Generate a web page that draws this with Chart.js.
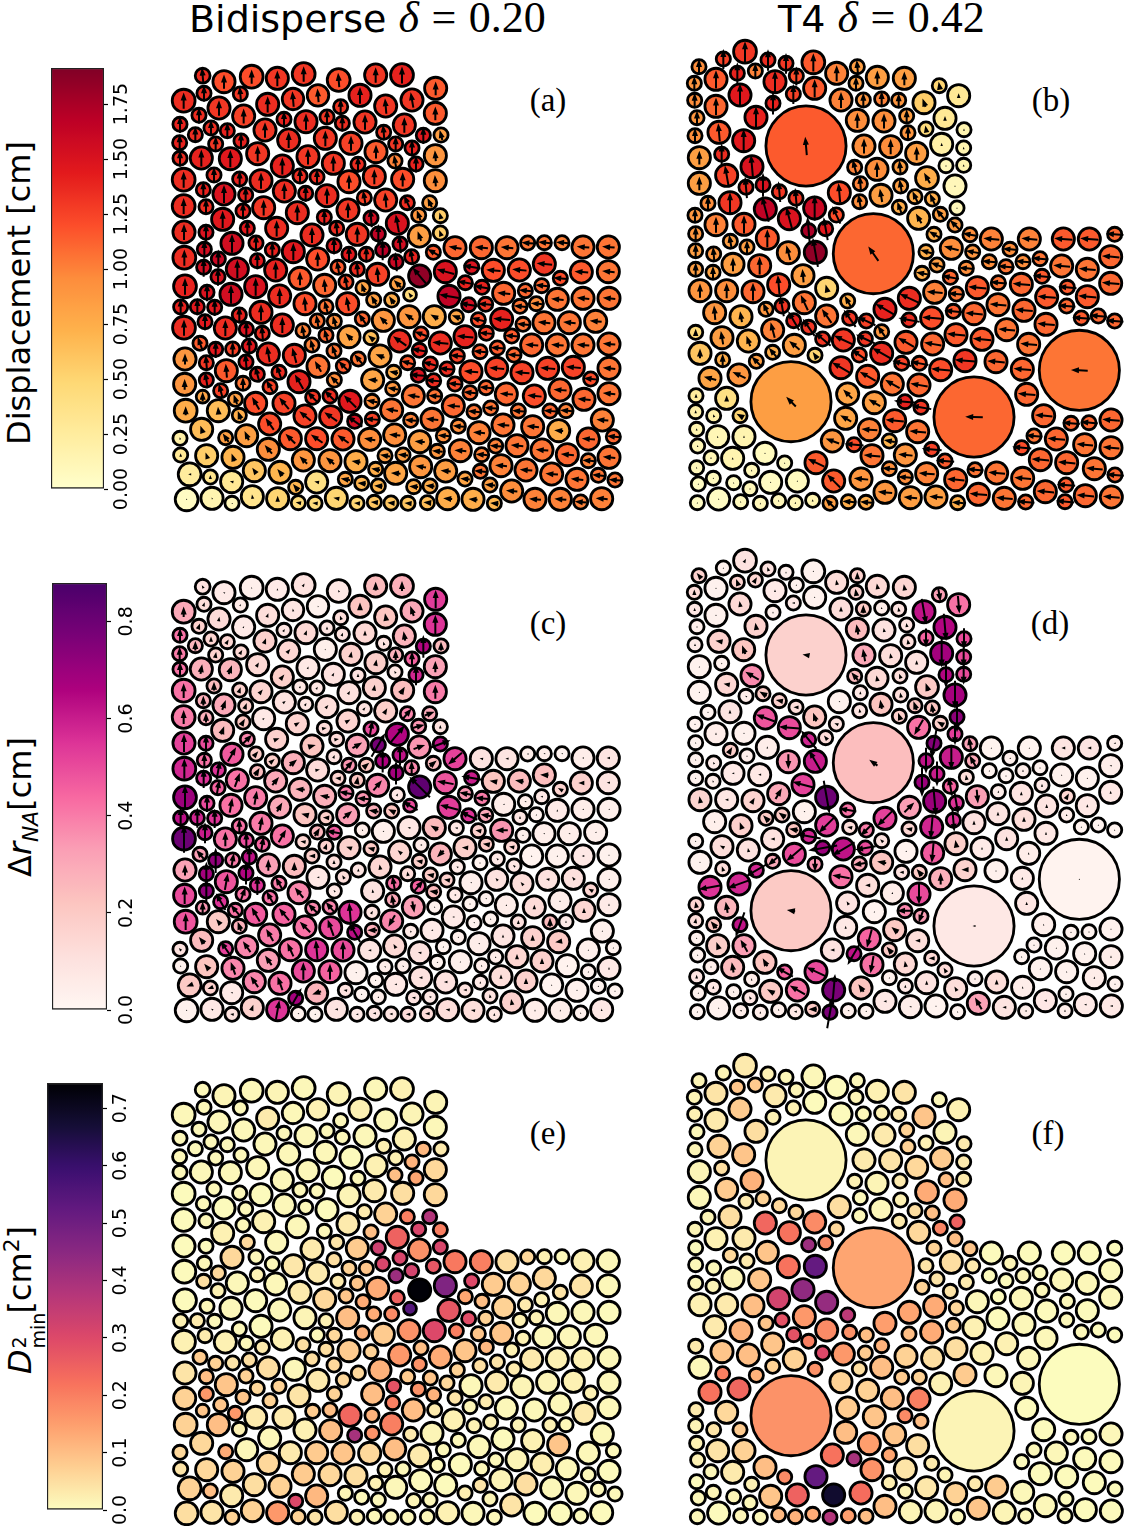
<!DOCTYPE html>
<html>
<head>
<meta charset="utf-8">
<title>Displacement maps</title>
<script src="https://cdn.jsdelivr.net/npm/chart.js@4"></script>
<style>
body{margin:0;background:#fff;width:1125px;height:1527px;position:relative;overflow:hidden}
canvas{position:absolute}
.t{position:absolute;white-space:nowrap;color:#000;font-family:"DejaVu Sans"}
.serif{font-family:"Liberation Serif";font-size:44px;word-spacing:1.5px}
.letter{font-family:"Liberation Serif";font-size:33px;transform:translate(-50%,-50%)}
.side{font-size:32px;transform:translate(-50%,-50%) rotate(-90deg)}
i.s{font-family:"DejaVu Sans";font-style:oblique}
sub,sup{font-size:.68em;line-height:0}
</style>
</head>
<body>
<div class="t" style="left:189px;top:-8px;font-size:38px">Bidisperse <span class="serif"><i>δ</i> = 0.20</span></div>
<div class="t" style="left:778px;top:-8px;font-size:38px">T4 <span class="serif"><i>δ</i> = 0.42</span></div>
<div class="t side" style="left:19px;top:293px">Displacement [cm]</div>
<div class="t side" style="left:20px;top:807px">Δ<i class="s">r<sub>NA</sub></i>[cm]</div>
<div class="t side" style="left:20px;top:1300px"><i class="s">D</i><span style="display:inline-block;position:relative;width:36px;height:1px"><span style="position:absolute;left:1px;top:-22px;font-size:19px">2</span><span style="position:absolute;left:1px;top:-3px;font-size:19px">min</span></span>[cm<sup>2</sup>]</div>
<div class="t letter" style="left:548px;top:100px">(a)</div>
<div class="t letter" style="left:1051px;top:100px">(b)</div>
<div class="t letter" style="left:548px;top:623px">(c)</div>
<div class="t letter" style="left:1050px;top:623px">(d)</div>
<div class="t letter" style="left:548px;top:1133px">(e)</div>
<div class="t letter" style="left:1048px;top:1133px">(f)</div>
<script>
// left packing, bidisperse
var leftX=[113,177,260,337,416,521,632,711,812,56,
117,226,308,384,459,585,527,662,741,811,
162,102,236,45,138,187,91,300,357,423,
486,532,600,718,656,775,828,44,152,228,
371,481,558,692,741,633,811,45,109,196,
278,429,352,505,579,690,753,56,147,224,
288,405,456,552,628,713,811,115,177,242,
358,422,486,598,662,727,794,56,123,234,
296,397,549,478,618,761,826,173,697,57,
123,247,335,515,441,577,640,763,826,201,
118,273,705,507,805,870,58,322,385,653,
552,604,458,949,1026,1088,1138,1191,1254,1330,
160,116,217,277,332,519,577,693,740,638,
159,764,841,920,985,1063,1138,1186,1249,1330,
60,405,479,543,594,697,901,951,126,198,
272,344,1016,1081,1130,420,735,626,680,548,
852,911,962,1065,1114,1177,1254,1332,47,97,
149,483,288,223,120,57,181,244,292,352,
414,457,508,592,655,732,808,874,940,1010,
1074,1137,1213,1292,483,552,618,704,768,826,
900,964,1040,105,152,203,253,310,388,441,
507,763,877,945,997,1047,1100,1177,1254,1332,
60,124,243,184,459,580,645,728,796,535,
918,995,1071,1148,1225,1332,59,124,277,342,
234,402,508,623,686,760,846,806,167,315,
113,211,443,495,870,963,1277,683,1024,1108,
1185,1332,915,745,809,555,621,62,160,272,
357,223,680,865,927,977,1060,1155,1203,1257,
420,497,569,622,737,801,1014,1103,1181,1312,
880,314,110,942,45,182,245,376,455,534,
614,689,764,835,1270,1345,992,1056,1131,47,
125,204,310,660,714,817,886,950,1207,1270,
1332,415,495,573,767,632,74,136,200,268,
345,692,842,1008,1083,946,1160,1236,1300,1350,
455,541,590,640,746,795,900,975,392,65,
141,201,262,338,400,450,514,576,628,678,
729,787,848,924,988,1040,1110,1186,1247,1310];
var leftY=[47,65,50,55,42,60,45,45,85,122,
100,102,133,117,106,106,140,138,120,160,
144,166,168,193,204,212,224,210,178,185,
171,190,186,195,217,226,225,248,252,243,
240,235,250,252,264,275,287,295,294,296,
281,290,318,310,313,303,312,359,345,357,
362,348,351,365,350,358,362,389,402,405,
393,400,407,413,420,428,428,438,440,453,
443,458,450,472,474,466,467,478,490,516,
517,505,505,505,525,523,522,528,519,550,
568,549,552,557,577,563,593,570,575,570,
583,583,597,563,563,549,548,548,561,561,
597,622,627,602,630,622,628,605,590,643,
650,648,635,621,631,630,612,655,636,635,
679,655,676,666,683,671,668,682,697,703,
680,708,700,692,677,731,704,720,720,731,
709,734,733,739,731,718,715,715,741,740,
742,740,757,765,785,803,804,808,820,795,
812,783,784,777,781,770,770,771,779,778,
793,788,788,784,826,830,833,843,822,849,
830,820,828,850,868,867,858,882,886,855,
873,871,888,875,864,885,855,855,855,852,
897,908,906,932,919,897,888,908,912,918,
935,925,938,925,922,925,973,960,943,937,
970,965,960,960,937,946,927,962,992,980,
1010,1018,1012,1008,972,983,957,986,1002,1008,
990,1001,998,1008,1008,1024,1024,1052,1052,1030,
1030,1066,1050,1038,1055,1044,1053,1053,1052,1018,
1068,1070,1084,1078,1081,1078,1095,1100,1112,1080,
1099,1092,1108,1118,1135,1133,1127,1136,1136,1137,
1138,1125,1145,1127,1137,1130,1158,1157,1170,1185,
1187,1192,1168,1187,1185,1174,1172,1184,1184,1202,
1192,1200,1202,1205,1220,1228,1243,1251,1265,1232,
1237,1240,1233,1217,1230,1234,1242,1258,1246,1260,
1266,1258,1270,1278,1280,1278,1257,1275,1282,1318,
1315,1330,1310,1316,1328,1330,1315,1330,1327,1329,
1330,1328,1316,1318,1330,1293,1318,1318,1326,1316];
var leftR=[25,36,37,36,37,37,36,37,36,37,
24,24,36,35,35,36,24,36,36,36,
36,24,36,24,24,24,24,36,24,36,
24,24,36,36,24,24,24,24,24,24,
36,36,36,24,24,36,36,24,36,36,
36,36,36,36,24,24,24,37,24,24,
36,24,24,36,36,36,36,24,36,24,
36,24,36,24,36,24,24,37,24,24,
36,36,36,24,24,24,24,36,36,36,
24,24,36,24,36,36,24,36,24,36,
24,24,24,24,24,36,37,24,36,24,
24,24,36,36,36,24,24,24,36,36,
24,24,36,24,36,24,24,24,24,36,
24,36,36,24,36,36,36,24,36,36,
37,36,36,24,24,24,24,24,24,36,
36,36,36,24,24,36,22,24,24,36,
36,24,24,24,24,36,36,36,24,24,
24,24,36,24,24,37,36,24,24,36,
24,24,24,24,36,36,36,24,24,36,
24,36,36,36,24,36,24,36,24,36,
36,24,24,24,24,24,24,36,36,24,
24,24,24,24,24,24,36,36,36,36,
36,24,24,36,36,24,36,24,24,24,
36,36,36,36,36,36,36,24,24,24,
24,36,24,36,24,24,24,24,24,24,
22,24,24,24,24,24,24,24,36,36,
36,36,24,36,24,36,24,37,36,36,
36,24,36,36,24,24,24,24,24,36,
36,36,24,24,24,36,36,36,36,36,
24,36,36,36,24,24,36,36,36,36,
36,36,36,24,36,24,24,36,36,24,
36,36,36,24,24,24,36,24,36,24,
36,36,36,36,36,24,37,24,36,36,
36,36,36,36,36,24,36,36,24,24,
36,24,24,24,24,24,24,24,24,37,
36,24,36,36,24,24,36,24,24,24,
24,24,36,36,24,36,36,36,24,36];
var leftDisp=[1.35,1.2,1.2,1.3,1.3,1.2,1.3,1.4,1.15,1.35,
1.35,1.3,1.35,1.3,1.15,1.4,1.3,1.3,1.3,1.15,
1.3,1.35,1.25,1.4,1.35,1.4,1.35,1.3,1.4,1.35,
1.3,1.35,1.3,1.3,1.3,1.45,.85,1.4,1.3,1.4,
1.35,1.3,1.25,1.3,1.4,1.15,.9,1.35,1.4,1.45,
1.3,1.3,1.4,1.3,1.35,1,1.4,1.35,1.35,1.4,
1.35,1.35,1.35,1.2,1.25,1.2,.95,1.4,1.5,1.4,
1.35,1.4,1.35,1.25,1.25,1.35,.85,1.35,1.35,1.4,
1.3,1.35,1.3,1.4,1.55,.9,.55,1.45,1.5,1.35,
1.5,1.45,1.35,1.35,1.35,1.3,1.65,.85,.55,1.55,
1.55,1.4,1.55,1.45,1.15,1.1,1.35,1.4,1.45,1.7,
1.45,1.35,1.2,1.1,1.05,1.05,1.05,1,1.05,1.05,
1.6,1.55,1.55,1.45,1.4,1.15,1.35,1.6,1.4,1.25,
1.5,1.85,1.5,1.5,1.2,1.2,1.3,1.2,1.15,1.05,
1.4,1.15,1.1,1.2,.8,.85,1.4,1.4,1.5,1.55,
1.5,1.35,1.1,1.1,1.1,1.2,.45,.85,.75,1.2,
1.65,1.55,1.3,1.05,.95,1.05,1.05,1.05,1.4,1.45,
1.45,1.05,1.35,1.4,1.45,1.35,1.35,1.5,1.35,1.35,
1,1.05,.95,1.1,.9,.9,.75,.8,1.2,1.4,
1.05,1.05,1.05,1,1.1,.8,.65,1.35,1.2,1.35,
1.4,1.25,1.15,1.15,1.45,1.25,1.45,1.35,1.3,1,
1.05,1.4,1.25,1.15,1.15,1.1,1.1,1.05,1.05,1.05,
.9,1.3,1.45,1.15,1.05,1.05,.8,1.15,1.35,1.15,
1.2,1.25,1.25,1.25,1.25,1.05,.9,1.4,1.4,1.35,
1.05,1.4,.95,.8,.75,1.5,1.35,1.35,1.25,1.25,
.8,.85,1.3,1.35,1.2,1.1,1.2,.9,1.1,1.2,
1.1,1.05,1.1,1.05,1.05,1.45,.95,.75,.65,1.2,
1.25,.75,1.05,1.1,1.05,1.05,1.05,1.1,1,1.1,
1.25,1.3,1.55,1.25,1,1.05,1.05,1.05,.75,1,
.95,1.2,.65,1,.2,.85,.85,1.15,1.2,1.15,
.95,.95,.85,.95,1.1,1.1,1,1.05,1.05,.3,
.55,.7,.95,.85,.85,.9,1,1,1.1,1,
1.05,.9,.9,.75,.9,.75,.25,.35,.3,.6,
.7,.8,.85,1,1.05,1.05,1.05,1.05,1.05,1.05,
.4,.8,.7,.7,.75,.75,.8,.85,.7,.05,
.15,.1,.35,.5,.45,.45,.5,.5,.6,.6,
.6,.65,.75,.75,.7,.95,1,1,1,1];
var leftDispAngle=[95,90,90,90,90,95,90,90,90,90,
90,95,90,95,95,90,90,95,100,90,
90,90,90,90,90,90,90,90,90,90,
90,90,90,90,95,90,105,90,90,90,
90,90,90,90,90,90,95,90,90,90,
90,90,90,90,90,100,90,90,90,90,
90,90,90,90,90,90,95,90,90,90,
90,90,90,100,95,115,115,90,90,90,
90,90,90,90,95,110,105,90,100,90,
90,90,90,95,90,90,90,110,110,90,
90,90,95,90,150,170,90,90,90,90,
90,90,90,175,175,175,175,175,175,175,
90,90,90,90,90,100,95,95,100,95,
90,130,165,170,175,175,175,175,175,175,
90,90,95,100,110,135,170,170,90,90,
90,90,175,175,175,95,125,120,125,100,
170,170,175,175,175,175,175,175,90,90,
90,105,90,90,90,90,90,90,95,90,
100,100,105,125,135,145,150,160,165,175,
175,175,175,175,105,135,140,145,160,175,
175,175,175,110,90,90,90,100,105,105,
110,170,175,175,175,175,175,175,175,175,
90,95,95,95,120,130,160,165,165,135,
175,175,175,175,175,175,90,100,105,110,
90,120,135,175,170,175,175,175,105,120,
90,110,135,135,175,175,175,170,175,175,
175,175,175,170,175,135,170,90,95,120,
130,110,170,175,175,175,175,175,175,175,
140,145,145,175,175,175,175,175,175,175,
175,125,110,175,100,125,115,135,145,145,
170,175,175,175,175,175,175,175,175,90,
110,110,130,170,175,175,175,175,175,175,
175,135,140,170,170,170,180,90,165,125,
130,175,175,175,175,175,175,175,175,175,
170,170,175,175,175,175,175,175,130,90,
120,170,100,90,170,175,170,175,175,175,
175,175,175,175,175,175,175,175,175,175];
var leftNa=[.1,.06,.04,.06,.1,.07,.25,.28,.53,.3,
.12,.06,.12,.08,.03,.22,.12,.22,.3,.55,
.13,.17,.06,.42,.15,.15,.27,.17,.09,.14,
.09,.1,.14,.27,.1,.65,.25,.4,.17,.14,
.15,.04,.17,.28,.45,.18,.32,.42,.28,.27,
.14,.07,.18,.1,.1,.08,.58,.42,.25,.17,
.16,.07,.08,.11,.17,.24,.4,.28,.3,.18,
.1,.09,.12,.1,.18,.38,.3,.4,.28,.22,
.07,.16,.16,.13,.5,.35,.1,.25,.65,.52,
.5,.38,.17,.13,.22,.32,.78,.35,.62,.47,
.42,.2,.62,.1,.25,.52,.58,.18,.28,.66,
.35,.22,.13,.1,.09,.05,.05,.03,.05,.09,
.55,.55,.42,.25,.3,.16,.22,.68,.38,.38,
.45,.83,.48,.6,.22,.25,.24,.16,.17,.09,
.7,.27,.28,.4,.35,.08,.35,.4,.5,.42,
.4,.3,.05,.05,.07,.22,.5,.28,.22,.33,
.53,.55,.3,.08,.03,.06,.05,.04,.63,.58,
.55,.18,.4,.42,.6,.8,.42,.5,.45,.42,
.15,.27,.47,.05,.04,.08,.25,.08,.17,.35,
.04,.04,.05,.04,.17,.17,.2,.15,.06,.27,
.18,.2,.15,.33,.72,.4,.62,.33,.25,.18,
.12,.18,.06,.02,.07,.08,.02,.03,.07,.03,
.32,.68,.65,.48,.07,.09,.15,.13,.2,.12,
.04,.1,.12,.1,.11,.04,.5,.72,.55,.4,
.42,.38,.07,.1,.43,.45,.17,.25,.55,.42,
.35,.42,.38,.38,.06,.03,.15,.3,.05,.13,
.05,.06,.02,.33,.03,.55,.1,.48,.2,.47,
.45,.28,.38,.06,.03,.03,.11,.25,.06,.15,
.42,.5,.63,.28,.06,.06,.09,.17,.2,.04,
.04,.4,.25,.05,.1,.52,.38,.42,.55,.5,
.09,.14,.1,.02,.04,.03,.05,.15,.17,.03,
.22,.38,.33,.05,.05,.02,.04,.05,.02,.03,
.07,.5,.45,.03,.1,.02,.2,.17,.06,.38,
.42,.07,.1,.12,.17,.06,.02,.03,.02,.02,
.27,.1,.02,.05,.1,.07,.1,.1,.68,.03,
.07,.1,.17,.55,.03,.03,.09,.07,.09,.09,
.13,.13,.12,.12,.08,.17,.05,.05,.03,.07];
var leftNaAngle=[120,150,90,100,60,120,90,90,90,90,
70,70,70,100,120,90,110,100,110,90,
80,70,60,90,90,60,90,70,60,70,
90,70,90,100,110,90,90,90,80,60,
50,70,80,90,90,80,90,90,80,70,
60,70,50,60,90,120,90,90,90,70,
50,80,60,60,80,60,90,90,70,70,
40,60,50,50,60,50,20,90,90,60,
40,30,30,10,80,15,90,70,50,90,
90,45,20,10,15,30,60,20,20,60,
90,50,90,70,40,220,90,40,40,90,
50,40,10,170,180,180,180,180,180,180,
80,90,70,60,50,175,80,90,90,50,
80,135,170,170,170,170,175,150,180,180,
90,175,170,170,175,60,170,175,90,80,
80,60,180,180,180,165,150,170,155,40,
165,155,170,90,90,90,180,180,90,90,
90,175,80,90,90,90,90,90,80,60,
170,60,170,120,180,170,150,170,170,180,
90,180,180,180,70,160,165,140,180,225,
175,170,170,130,90,80,90,90,90,180,
90,170,150,90,140,140,90,90,180,90,
90,90,90,80,180,90,100,100,170,120,
180,130,130,170,130,180,90,90,90,120,
70,130,130,100,100,50,170,170,120,120,
90,130,135,130,180,180,150,100,90,90,
90,90,90,280,90,95,60,90,130,120,
130,110,240,180,180,90,90,90,90,90,
135,110,120,180,120,180,90,90,190,90,
90,120,130,180,130,125,125,115,95,90,
180,120,170,90,90,90,90,90,90,90,
130,110,125,140,135,180,90,90,90,90,
90,90,90,175,180,90,200,200,180,125,
110,180,180,90,90,90,90,90,90,90,
200,170,90,90,170,170,180,100,60,90,
150,170,70,80,180,180,180,180,180,180,
180,180,170,170,90,100,90,90,90,90];
var leftD2=[.01,.015,.01,.015,.01,.015,.01,.02,.015,.01,
.01,.01,.03,.01,.02,.02,.01,.01,.015,.01,
.01,.01,.01,.01,.01,.01,.01,.01,.01,.01,
.01,.01,.01,.02,.025,.11,.03,.01,.01,.01,
.01,.01,.005,.02,.12,.02,.06,.01,.01,.01,
.01,.01,.01,.005,.01,.1,.14,.005,.01,.01,
.005,.01,.01,.015,.03,.05,.06,.01,.005,.01,
.01,.01,.005,.03,.07,.2,.38,.005,.01,.01,
.02,.01,.03,.01,.1,.31,.2,.02,.25,.005,
.005,.06,.01,.04,.03,.08,.33,.17,.31,.06,
.01,.01,.31,.05,.27,.21,.005,.01,.035,.31,
.07,.09,.03,.2,.05,.06,.02,.01,.02,.01,
.06,.05,.01,.02,.01,.03,.09,.42,.32,.13,
.02,.74,.47,.3,.08,.07,.06,.04,.04,.01,
.005,.03,.06,.09,.13,.25,.14,.1,.01,.01,
.005,.01,.07,.03,.02,.015,.55,.13,.18,.1,
.27,.29,.07,.02,.02,.01,.01,.005,.02,.03,
.01,.02,.005,.01,.03,.02,.02,.01,.03,.02,
.05,.01,.06,.12,.08,.17,.3,.2,.09,.09,
.02,.01,.01,.01,.05,.08,.07,.16,.1,.13,
.09,.11,.02,.08,.07,.04,.05,.05,.01,.05,
.06,.17,.07,.05,.04,.03,.03,.02,.02,.01,
.04,.1,.07,.09,.03,.06,.12,.08,.09,.06,
.01,.03,.015,.015,.02,.01,.07,.16,.06,.07,
.09,.04,.07,.1,.28,.17,.06,.12,.09,.07,
.09,.16,.08,.1,.04,.03,.02,.2,.01,.01,
.01,.01,.015,.1,.03,.24,.12,.07,.1,.03,
.03,.02,.2,.02,.02,.02,.015,.02,.01,.03,
.02,.1,.4,.17,.03,.015,.005,.02,.09,.01,
.01,.01,.06,.01,.06,.13,.01,.03,.08,.09,
.06,.1,.03,.01,.01,.01,.01,.015,.025,.04,
.06,.07,.06,.02,.01,.01,.005,.01,.01,.01,
.005,.08,.06,.05,.005,.02,.07,.1,.03,.05,
.07,.01,.005,.015,.05,.04,.01,.01,.01,.01,
.11,.015,.01,.01,.015,.01,.025,.015,.3,.05,
.04,.07,.07,.16,.07,.04,.05,.02,.01,.01,
.01,.01,.02,.01,.01,.04,.005,.005,.005,.005];
// right packing, T4
var rightX=[57,130,195,264,318,400,470,532,592,673,
778,836,43,108,172,226,285,349,404,528,
44,180,340,279,108,483,550,605,656,732,
51,228,378,532,612,680,795,738,852,117,
45,191,684,785,552,632,851,710,125,58,
216,798,851,524,591,660,741,140,58,825,
198,249,541,662,478,298,603,348,705,757,
150,84,539,831,658,45,256,404,469,328,
716,781,108,192,825,580,386,437,47,262,
151,870,762,934,1048,1150,1228,1304,201,406,
47,101,325,814,738,878,990,1080,1292,159,
239,928,1029,978,1145,1222,771,859,47,99,
369,726,811,1086,60,140,219,296,440,955,
1024,1292,764,829,892,1162,688,503,373,1222,
1100,954,1032,104,183,258,306,615,440,820,
882,1160,755,509,687,341,559,386,1204,1255,
1304,47,605,278,126,980,1098,828,205,428,
490,556,678,906,758,1046,343,605,60,278,
405,538,1198,128,229,665,718,855,948,483,
782,1027,90,177,563,333,637,717,1040,882,
48,140,503,583,675,723,47,101,180,497,
1091,644,1173,1227,1293,50,113,192,568,713,
1129,1062,457,628,522,53,1214,1293,1025,755,
576,676,255,158,93,314,408,795,1081,1160,
1243,50,215,628,885,950,740,1305,461,543,
352,272,100,161,55,210,676,827,1028,1158,
1096,615,895,116,52,182,241,296,346,398,
450,505,558,691,768,833,973,1037,1216,1155,1294];
var rightY=[95,72,50,75,85,82,115,95,127,130,
152,182,145,133,115,108,140,123,160,145,
196,180,177,205,214,195,195,192,196,203,
248,247,333,256,258,243,250,282,284,292,
302,317,293,328,333,335,339,355,358,368,
395,392,391,397,403,396,429,421,445,453,
457,449,446,453,473,470,481,490,485,492,
503,505,500,519,517,541,522,519,540,551,
550,538,569,568,570,656,587,581,596,610,
619,599,598,612,612,612,612,598,636,652,
647,657,653,640,650,651,643,671,665,688,
692,680,680,695,693,703,690,700,703,712,
722,715,727,724,767,767,770,749,760,743,
748,745,772,777,758,757,790,798,803,785,
786,809,826,833,845,823,813,823,843,829,
836,813,849,850,855,857,858,877,849,843,
858,892,890,885,908,884,868,899,918,912,
915,912,922,913,927,928,931,955,955,952,
961,960,1006,974,979,985,985,977,980,998,
1004,1003,1030,1020,1024,1100,1047,1050,1078,1146,
1082,1090,1077,1103,1100,1117,1130,1142,1142,1150,
1142,1157,1165,1163,1155,1183,1205,1205,1184,1190,
1212,1203,1218,1218,1229,1233,1229,1238,1238,1243,
1262,1260,1255,1270,1268,1284,1283,1278,1274,1283,
1301,1298,1306,1301,1304,1314,1316,1320,1338,1332,
1338,1342,1330,1343,1347,1361,1327,1334,1330,1350,
1370,1372,1378,1392,1403,1400,1405,1397,1403,1396,
1405,1400,1402,1388,1386,1403,1390,1401,1382,1400,1386];
var rightR=[24,24,37,24,24,37,36,24,36,36,
24,36,24,36,24,24,36,24,36,24,
24,36,24,24,36,36,24,24,24,36,
24,36,123,36,36,24,36,24,24,36,
24,36,24,36,36,36,24,36,24,36,
36,24,24,24,36,24,37,36,36,36,
24,24,24,24,36,24,36,24,24,24,
36,24,24,24,24,24,36,36,24,36,
36,24,36,36,24,123,24,24,24,36,
24,24,24,36,36,36,36,24,24,36,
24,24,36,36,24,24,24,24,36,36,
36,24,24,24,36,36,24,24,24,24,
36,24,24,24,36,36,36,36,36,24,
36,36,36,24,36,24,36,24,36,36,
36,36,36,36,36,24,24,36,36,24,
36,24,36,24,24,24,24,24,24,24,
24,24,24,36,36,36,36,36,36,24,
36,24,36,36,36,36,36,36,36,24,
24,24,123,24,24,24,24,36,36,36,
36,36,36,36,36,123,36,36,36,123,
24,36,36,36,24,24,24,24,24,36,
36,36,24,24,36,24,36,36,36,36,
36,24,36,24,24,24,36,36,24,24,
36,36,36,36,24,24,36,24,36,36,
36,24,24,24,24,36,36,24,36,36,
36,36,24,24,24,24,24,36,36,24,
36,36,36,36,24,24,24,24,24,24,
24,24,24,36,36,24,36,24,36,24,36];
var rightDisp=[.95,1.25,1.3,1.35,1.3,1.15,1,.85,.85,.85,
.5,.3,.9,1.15,1.4,1,1.35,1.2,1.15,.85,
.95,1.45,1.25,1.4,1.1,1,.9,1,.9,.55,
.9,1.4,1.15,.95,.95,.85,.3,.45,.15,1.15,
.95,1.45,.9,.2,.95,.95,.15,.85,1.35,.85,
1.5,.1,.15,1,.95,.85,.75,1.25,.85,.1,
1.35,1.5,1,.85,1.2,1.3,.85,1.3,.75,.75,
1.3,.95,.95,.1,.75,.9,1.65,1.6,1.2,1.5,
.7,.85,1,1.15,.9,1.1,1.75,1.45,.9,1.15,
.85,.95,.75,1,1,1.15,1.15,1.1,.85,1.85,
.85,.9,.95,.95,.75,.9,.95,1.05,1.1,.85,
1.1,.95,.95,1.05,1.05,1.05,.85,.95,.85,.8,
.85,.75,1.1,1.15,.9,.95,1.1,1.2,.5,1.05,
1.1,1.1,1,1.05,1.15,1.15,1.35,.75,1.05,1.15,
1.15,1.05,1.1,.9,.7,.9,1.3,1.4,1.05,1.15,
1.1,1.1,1.2,1.3,1.35,1.4,1.25,1.3,1.15,1.1,
1.1,.45,.9,1,.85,1.05,1.1,1.15,.7,1.3,
1.3,1.3,1.15,1.15,1.1,1.05,.85,1.35,.6,.75,
.5,1.2,1.05,.75,.85,1.25,1.15,1.3,1.1,1.3,
1.2,1.1,.8,.9,1.15,.85,1.05,1.1,1.1,1.1,
.25,.4,.8,.85,1.4,1.3,.2,.2,.5,.8,
1.1,1.15,1.1,1.1,1.1,.15,.12,.15,1,1.05,
1.1,1.05,.9,.7,1.2,.12,1.05,1.05,1.2,1.25,
1.05,.9,.07,.15,.12,.08,1.15,1.15,1.1,1.1,
1.05,.1,.1,.95,1.05,1.05,1,1.1,1.15,.9,
.07,.05,.08,.06,.05,.1,.95,1.1,1.05,1.15,
1.1,.9,1.1,.05,.05,.08,.1,.1,.12,.15,
.85,.75,.75,.85,.85,.75,1.05,1.1,1.1,1.15,1.05];
var rightDispAngle=[90,90,90,90,90,90,90,95,90,90,
100,90,90,90,90,90,90,90,90,90,
90,90,90,90,90,90,90,90,90,110,
90,90,95,90,90,90,90,100,90,95,
90,90,90,90,90,90,90,90,90,90,
95,90,90,105,90,95,120,100,90,90,
95,90,95,100,95,95,100,95,115,115,
90,90,100,90,110,90,105,90,115,105,
120,130,90,90,135,125,95,100,90,90,
100,170,150,175,175,175,175,175,90,100,
90,95,105,165,165,170,175,175,175,90,
90,175,175,175,175,175,160,175,90,90,
95,170,170,175,90,90,90,95,105,175,
175,175,175,175,175,175,155,120,115,175,
175,175,175,95,100,115,100,150,125,175,
175,175,175,125,170,120,155,125,175,175,
175,90,125,105,100,175,175,175,110,140,
155,155,150,175,170,175,140,150,90,130,
125,145,178,90,135,165,170,175,175,150,
175,175,165,155,150,135,150,170,175,178,
90,90,135,150,175,170,90,110,150,150,
175,175,175,175,175,90,90,90,175,175,
175,175,160,170,175,90,175,175,175,175,
175,175,90,90,90,90,155,175,175,175,
175,90,90,175,175,175,175,175,135,175,
90,90,90,90,90,90,175,175,175,175,
175,175,175,90,90,90,90,90,90,90,
135,175,175,175,175,175,175,175,175,175,175];
var rightNa=[.17,.03,.1,.1,.04,.03,.12,.17,.14,.15,
.33,.42,.13,.03,.17,.15,.06,.03,.03,.17,
.08,.14,.07,.04,.03,.12,.2,.05,.1,.62,
.04,.17,.17,.25,.1,.1,.65,.45,.5,.17,
.06,.22,.12,.68,.3,.12,.5,.1,.03,.03,
.37,.65,.5,.25,.14,.12,.2,.15,.02,.68,
.05,.2,.07,.12,.03,.17,.22,.12,.22,.22,
.09,.02,.09,.73,.18,.03,.48,.22,.1,.5,
.42,.18,.05,.03,.53,.24,.58,.13,.03,.05,
.18,.32,.75,.02,.02,.09,.09,.05,.04,.6,
.03,.06,.35,.6,.62,.3,.04,.03,.05,.06,
.07,.02,.05,.02,.03,.03,.6,.12,.03,.05,
.52,.7,.45,.07,.16,.08,.16,.3,.8,.05,
.09,.07,.7,.55,.33,.15,.33,.42,.03,.07,
.09,.09,.12,.04,.17,.2,.2,.52,.53,.55,
.1,.05,.58,.12,.15,.22,.4,.58,.02,.02,
.02,.03,.1,.1,.12,.1,.07,.18,.1,.7,
.62,.5,.02,.06,.47,.05,.5,.22,.03,.3,
.35,.3,.02,.12,.58,.1,.2,.17,.03,.42,
.28,.06,.55,.58,.12,.2,.05,.5,.08,.07,
.15,.27,.1,.02,.38,.33,.12,.22,.62,.07,
.04,.2,.03,.02,.03,.03,.18,.33,.45,.12,
.03,.03,.1,.2,.62,.03,.03,.05,.02,.14,
.42,.14,.22,.25,.04,.45,.5,.13,.03,.03,
.05,.09,.05,.03,.04,.12,.1,.03,.77,.22,
.42,.2,.07,.03,.03,.08,.07,.12,.05,.04,
.07,.07,.32,.03,.02,.05,.05,.04,.07,.2,
.77,.04,.03,.05,.02,.02,.09,.05,.06,.05,.07];
var rightNaAngle=[130,90,60,110,90,90,100,90,100,100,
280,275,90,90,110,60,90,90,90,100,
90,100,180,90,90,90,90,90,100,280,
90,100,170,100,100,100,275,270,270,170,
90,110,100,270,100,100,270,90,110,90,
150,270,270,130,100,110,110,170,90,270,
150,150,90,100,180,170,100,180,110,100,
90,90,100,270,110,90,160,110,160,175,
240,150,90,90,270,145,130,130,90,90,
60,100,260,90,90,180,180,180,90,120,
90,120,270,270,270,120,180,90,180,180,
180,90,90,90,90,90,270,100,90,110,
165,270,100,90,100,180,60,60,280,90,
90,90,275,280,275,60,45,170,180,90,
90,90,90,90,110,135,145,225,225,275,
90,90,265,170,170,170,225,170,90,90,
90,90,135,180,150,90,90,100,100,190,
210,190,180,90,265,90,220,170,90,220,
270,190,90,110,210,180,130,180,90,170,
90,90,190,200,180,170,90,270,90,180,
100,100,120,90,180,250,80,130,250,90,
90,140,90,90,90,90,110,120,255,180,
90,90,180,130,240,90,90,90,90,180,
260,100,120,100,90,150,155,120,90,90,
90,90,90,90,90,90,90,90,85,125,
150,150,90,90,90,120,90,120,90,90,
180,180,120,90,90,180,90,90,180,180,
80,180,180,180,90,90,180,180,180,90,180];
var rightD2=[.015,.015,.03,.02,.01,.01,.005,.01,.02,.04,
.01,.02,.015,.04,.09,.08,.03,.015,.005,.015,
.02,.08,.02,.02,.03,.005,.01,.02,.03,.09,
.01,.05,.015,.01,.03,.07,.015,.02,.03,.07,
.015,.09,.07,.08,.03,.04,.03,.06,.05,.015,
.12,.1,.03,.02,.015,.03,.13,.08,.01,.13,
.03,.07,.01,.02,.05,.06,.01,.06,.05,.1,
.05,.015,.01,.25,.03,.015,.24,.18,.06,.22,
.06,.19,.02,.03,.1,.14,.42,.18,.005,.09,
.06,.09,.07,.005,.005,.005,.005,.005,.03,.52,
.01,.01,.22,.05,.04,.03,.015,.005,.005,.015,
.09,.005,.015,.005,.01,.01,.04,.03,.01,.015,
.44,.07,.04,.01,.02,.03,.1,.32,.43,.005,
.01,.01,.13,.06,.01,.01,.14,.36,.16,.005,
.005,.005,.01,.03,.12,.09,.28,.15,.18,.08,
.02,.01,.13,.17,.1,.28,.1,.2,.01,.005,
.005,.03,.12,.09,.09,.02,.01,.05,.1,.3,
.16,.08,.07,.02,.05,.01,.07,.1,.01,.07,
.17,.05,.001,.2,.12,.08,.07,.08,.01,.07,
.02,.015,.22,.24,.07,.17,.1,.2,.005,.015,
.03,.06,.08,.09,.18,.1,.015,.04,.08,.1,
.005,.09,.01,.005,.01,.02,.04,.07,.15,.05,
.01,.01,.22,.14,.4,.02,.005,.005,.005,.03,
.17,.04,.1,.03,.01,.18,.52,.015,.005,.005,
.005,.005,.02,.025,.03,.08,.035,.005,.68,.23,
.25,.09,.015,.015,.01,.01,.015,.07,.01,.005,
.01,.1,.09,.005,.01,.015,.01,.11,.12,.13,
.38,.15,.1,.015,.015,.01,.015,.01,.005,.005,.005];

var dispTicks=[0,.25,.5,.75,1,1.25,1.5,1.75];
var naTicks=[0,.2,.4,.6,.8];
var d2Ticks=[0,.1,.2,.3,.4,.5,.6,.7];

var ylOrRd=['#ffffcc','#ffeda0','#fed976','#feb24c','#fd8d3c','#fc4e2a','#e31a1c','#bd0026','#800026'];
var rdPu=['#fff7f3','#fde0dd','#fcc5c0','#fa9fb5','#f768a1','#dd3497','#ae017e','#7a0177','#49006a'];
var magmaR=['#fcfdbf','#fecf92','#fe9f6d','#f7705c','#de4968','#b73779','#8c2981','#641a80','#3b0f70','#140e36','#000004'];

function hexRgb(h){return [parseInt(h.substr(1,2),16),parseInt(h.substr(3,2),16),parseInt(h.substr(5,2),16)]}
function cmap(stops,t){
  t=Math.max(0,Math.min(1,t))*(stops.length-1);
  var i=Math.min(Math.floor(t),stops.length-2),f=t-i;
  var a=hexRgb(stops[i]),b=hexRgb(stops[i+1]);
  return 'rgb('+Math.round(a[0]+(b[0]-a[0])*f)+','+Math.round(a[1]+(b[1]-a[1])*f)+','+Math.round(a[2]+(b[2]-a[2])*f)+')';
}

// quiver style arrows, pivot in the middle of the circle
var arrowPlugin={
  id:'arrows',
  afterDatasetsDraw:function(chart,args,opts){
    if(!opts.size) return;
    var c=chart.ctx,pts=chart.data.datasets[0].data;
    c.save();
    c.fillStyle='#000';
    for(var i=0;i<pts.length;i++){
      var px=chart.scales.x.getPixelForValue(pts[i].x),py=chart.scales.y.getPixelForValue(pts[i].y);
      var L=Math.max(opts.size[i]*opts.scale,1.5),f=Math.min(1,L/8),hl=8*f,hw=3*f,sw=1;
      c.save();
      c.translate(px,py);
      c.rotate(-opts.angle[i]*Math.PI/180);
      c.beginPath();
      c.moveTo(L/2,0);
      c.lineTo(L/2-hl,-hw);
      if(L>8){c.lineTo(L/2-hl,-sw);c.lineTo(-L/2,-sw);c.lineTo(-L/2,sw);c.lineTo(L/2-hl,sw);}
      c.lineTo(L/2-hl,hw);
      c.closePath();
      c.fill();
      c.restore();
    }
    c.restore();
  }
};

// tick labels of the colour bars read bottom to top, centred on the tick
var barLabels={
  id:'barLabels',
  afterDraw:function(chart,args,opts){
    var c=chart.ctx,s=chart.scales.y;
    c.save();
    c.fillStyle='#000';
    c.font='19px "DejaVu Sans"';
    c.textAlign='center';
    c.textBaseline='middle';
    s.ticks.forEach(function(t){
      c.save();
      c.translate(chart.chartArea.right+opts.gap,s.getPixelForValue(t.value));
      c.rotate(-Math.PI/2);
      c.fillText(t.value.toFixed(opts.digits),0,0);
      c.restore();
    });
    c.restore();
  }
};

function addCanvas(left,top,w,h){
  var cv=document.createElement('canvas');
  cv.width=w;cv.height=h;
  cv.style.left=left+'px';cv.style.top=top+'px';
  document.body.appendChild(cv);
  return cv;
}

function panel(left,top,w,h,xs,ys,rs,values,stops,vmax,size,angle,scale){
  var pts=[],cols=[];
  for(var i=0;i<xs.length;i++){
    pts.push({x:xs[i],y:ys[i],r:rs[i]/3-.9});
    cols.push(cmap(stops,values[i]/vmax));
  }
  new Chart(addCanvas(left,top,w,h),{
    type:'bubble',
    data:{datasets:[{data:pts,backgroundColor:cols,borderColor:'#000',borderWidth:2.8,clip:false}]},
    plugins:[arrowPlugin],
    options:{
      responsive:false,animation:false,
      layout:{padding:0,autoPadding:false},
      events:[],
      scales:{
        x:{type:'linear',display:false,min:0,max:w*3},
        y:{type:'linear',display:false,min:0,max:h*3,reverse:true}
      },
      plugins:{legend:{display:false},tooltip:{enabled:false},arrows:{size:size,angle:angle,scale:scale}}
    }
  });
}

function colorbar(left,top,w,h,stops,vmax,ticks,digits,gap){
  var margin=26;
  new Chart(addCanvas(left-2,top-margin,w+52,h+2*margin),{
    type:'bar',
    data:{labels:[''],datasets:[{
      data:[[0,vmax]],
      barPercentage:1,categoryPercentage:1,
      borderColor:'#222',borderWidth:1.5,borderSkipped:false,
      backgroundColor:function(ctx){
        var a=ctx.chart.chartArea;
        if(!a) return stops[0];
        var g=ctx.chart.ctx.createLinearGradient(0,a.bottom,0,a.top);
        for(var i=0;i<=48;i++) g.addColorStop(i/48,cmap(stops,i/48));
        return g;
      }
    }]},
    plugins:[barLabels],
    options:{
      responsive:false,animation:false,events:[],
      layout:{padding:{left:2,right:0,top:margin,bottom:margin},autoPadding:false},
      scales:{
        x:{display:false},
        y:{
          position:'right',min:0,max:vmax,
          afterFit:function(s){s.width=50},
          afterBuildTicks:function(s){s.ticks=ticks.map(function(v){return {value:v}})},
          grid:{drawOnChartArea:false,tickLength:4,color:'#000',tickWidth:1.2},
          border:{display:false},
          ticks:{display:false}
        }
      },
      plugins:{legend:{display:false},tooltip:{enabled:false},barLabels:{digits:digits,gap:gap}}
    }
  });
}

colorbar(51,68,53,421,ylOrRd,1.914,dispTicks,2,18.5);
colorbar(52,583,55,427,rdPu,.879,naTicks,1,20);
colorbar(47,1083,56,427,magmaR,.744,d2Ticks,1,18);

panel(165,60,465,460,leftX,leftY,leftR,leftDisp,ylOrRd,1.914,leftDisp,leftDispAngle,12);
panel(680,35,445,490,rightX,rightY,rightR,rightDisp,ylOrRd,1.914,rightDisp,rightDispAngle,16);
panel(165,571.3,465,460,leftX,leftY,leftR,leftNa,rdPu,.879,leftNa,leftNaAngle,35);
panel(680,544,445,490,rightX,rightY,rightR,rightNa,rdPu,.879,rightNa,rightNaAngle,42);
panel(165,1074.3,465,452,leftX,leftY,leftR,leftD2,magmaR,.744);
panel(680,1049,445,478,rightX,rightY,rightR,rightD2,magmaR,.744);
</script>
</body>
</html>
